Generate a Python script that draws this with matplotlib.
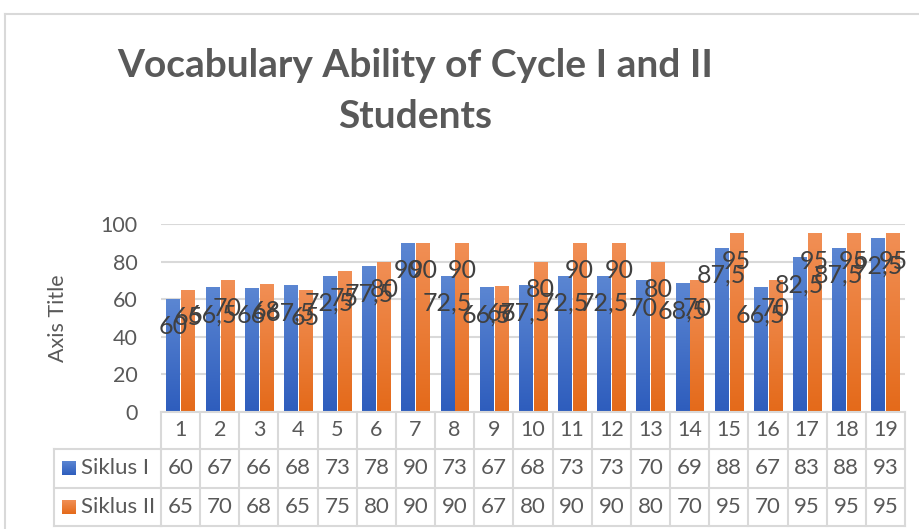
import numpy as np
import matplotlib
matplotlib.use("Agg")
import matplotlib.pyplot as plt
from matplotlib.transforms import blended_transform_factory
from matplotlib.lines import Line2D
from matplotlib.colors import to_rgb

# data
categories = [str(i) for i in range(1, 20)]
siklus1 = [60, 66.5, 66, 67.5, 72.5, 77.5, 90, 72.5, 66.5, 67.5,
           72.5, 72.5, 70, 68.5, 87.5, 66.5, 82.5, 87.5, 92.5]
siklus2 = [65, 70, 68, 65, 75, 80, 90, 90, 67, 80,
           90, 90, 80, 70, 95, 70, 95, 95, 95]
series_names = ["Siklus I", "Siklus II"]
yticks = [0, 20, 40, 60, 80, 100]

BLUE = ("#5B86D2", "#2E5DBD")    # top, bottom
ORANGE = ("#F18F55", "#E46A1A")
GRID = "#D9D9D9"
TXT = "#595959"
LBL = "#404040"

plt.rcParams["font.family"] = ["Lato", "DejaVu Sans"]

W, H = 920, 529
fig = plt.figure(figsize=(W / 100, H / 100), dpi=100)
ax_l, ax_r, ax_t, ax_b = 161, 905, 224, 412
ax = fig.add_axes([ax_l / W, 1 - ax_b / H, (ax_r - ax_l) / W, (ax_b - ax_t) / H])
ax_h = ax_b - ax_t


def grad(top, bottom, n=64):
    t = np.linspace(0, 1, n)[:, None]
    c0, c1 = np.array(to_rgb(bottom)), np.array(to_rgb(top))
    return (c0 + (c1 - c0) * t)[:, None, :]


x = np.arange(len(categories))
bw, off = 0.34, 0.19
for vals, cols, dx in [(siklus1, BLUE, -off), (siklus2, ORANGE, off)]:
    bars = ax.bar(x + dx, vals, width=bw, color="none", zorder=2)
    for b, v in zip(bars, vals):
        x0 = b.get_x()
        im = ax.imshow(grad(*cols), extent=(x0, x0 + bw, 0, v), origin="lower",
                       aspect="auto", zorder=2, interpolation="bilinear")
        im.set_clip_path(b)
        lab = "{:g}".format(v).replace(".", ",")
        ax.annotate(lab, (x0 + bw / 2, v), xytext=(0, -20), textcoords="offset points",
                    ha="center", va="center", fontsize=18, color=LBL, zorder=4)

ax.set_xlim(-0.5, len(categories) - 0.5)
ax.set_ylim(0, 100)
ax.set_yticks(yticks)
ax.set_yticklabels([str(t) for t in yticks], fontsize=15.5, color=TXT)
ax.tick_params(axis="y", length=0, pad=17)
ax.set_xticks([])
for s in ax.spines.values():
    s.set_visible(False)
for t in yticks[1:]:
    ax.axhline(t, color=GRID, lw=1.5, zorder=1)
ax.set_ylabel("Axis Title", fontsize=15.5, color=TXT, labelpad=23)

# data table below the axis
tr = blended_transform_factory(ax.transData, ax.transAxes)
trf = blended_transform_factory(fig.transFigure, ax.transAxes)
rows = [-37 / ax_h, -76 / ax_h, -114 / ax_h]
kw = dict(color=GRID, lw=1.5, clip_on=False, zorder=3)
ax.add_line(Line2D([-0.5, len(categories) - 0.5], [0, 0], transform=tr, **kw))
for r in rows:
    ax.add_line(Line2D([-0.5, len(categories) - 0.5], [r, r], transform=tr, **kw))
    ax.add_line(Line2D([54 / W, ax_l / W], [r, r], transform=trf, **kw))
for i in range(len(categories) + 1):
    ax.add_line(Line2D([i - 0.5, i - 0.5], [0, rows[-1]], transform=tr, **kw))
ax.add_line(Line2D([54 / W, 54 / W], [rows[0], rows[-1]], transform=trf, **kw))

centers = [-18.5 / ax_h, -56.5 / ax_h, -95 / ax_h]
for i, c in enumerate(categories):
    ax.text(i, centers[0], c, transform=tr, ha="center", va="center", fontsize=15.5, color=TXT)
for k, (vals, cols, name) in enumerate([(siklus1, BLUE, series_names[0]),
                                         (siklus2, ORANGE, series_names[1])]):
    yc = centers[k + 1]
    for i, v in enumerate(vals):
        ax.text(i, yc, str(int(np.floor(v + 0.5))), transform=tr, ha="center", va="center",
                fontsize=16, color=TXT)
    # legend key
    kx0, kx1 = 62 / W, 76 / W
    kh = 13.5 / ax_h
    ax.imshow(grad(*cols), extent=(kx0, kx1, yc - kh / 2, yc + kh / 2), origin="lower",
              aspect="auto", transform=trf, clip_on=False, zorder=3)
    ax.text(81 / W, yc, name, transform=trf, ha="left", va="center", fontsize=16, color=TXT)

ax.set_xlim(-0.5, len(categories) - 0.5)
ax.set_ylim(0, 100)

# title
fig.text(415 / W, 1 - 77 / H, "Vocabulary Ability of Cycle I and II", ha="center", va="baseline",
         fontsize=28, fontweight="bold", color=TXT)
fig.text(415 / W, 1 - 128 / H, "Students", ha="center", va="baseline",
         fontsize=28, fontweight="bold", color=TXT)

# chart border
fig.add_artist(Line2D([5 / W, 5 / W], [0, 1 - 14 / H], color=GRID, lw=1.5, transform=fig.transFigure))
fig.add_artist(Line2D([5 / W, 1], [1 - 14 / H, 1 - 14 / H], color=GRID, lw=1.5, transform=fig.transFigure))

fig.savefig("out.png", dpi=100)
